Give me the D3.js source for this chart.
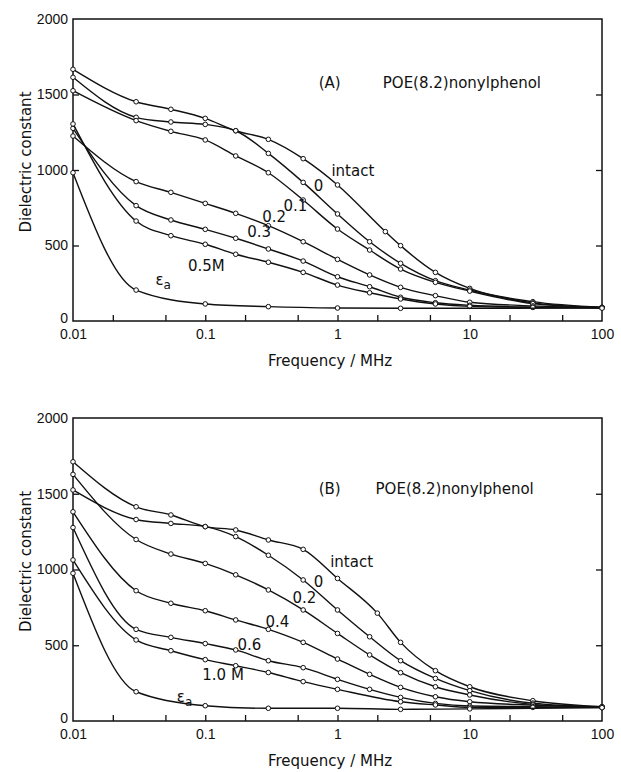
<!DOCTYPE html>
<html>
<head>
<meta charset="utf-8">
<script src="https://cdn.jsdelivr.net/npm/d3@7"></script>
<style>
  body { margin: 0; background: #fff; }
  text { font-family: "DejaVu Sans", sans-serif; fill: #111; }
  .tick text { font-family: "Liberation Sans", Arial, sans-serif; font-size: 14px; }
</style>
</head>
<body>
<script>
var width = 621,
    height = 772;

// frequencies (MHz) where markers were read, panel A and panel B
var freqA = [0.01, 0.03, 0.055, 0.1, 0.17, 0.3, 0.55, 1, 1.75, 2.3, 3, 5.5, 10, 30, 100];
var freqB = [0.01, 0.03, 0.055, 0.1, 0.17, 0.3, 0.55, 1, 1.75, 2, 3, 5.5, 10, 30, 100];

// panel A: dielectric constant per series (null = no marker there)
var intactA = [1667, 1452, 1402, 1342, 1260, 1203, 1075, 901, null, 592, 499, 322, 216, 128, 91];
var zeroA   = [1614, 1349, 1318, 1302, 1260, 1110, 918, 709, 525, null, 382, 267, 205, 120, 90];
var m01A    = [1525, 1327, 1256, 1199, 1093, 982, 801, 609, 470, null, 344, 256, 198, 115, 88];
var m02A    = [1225, 923, 852, 779, 713, 631, 525, 408, 305, null, 223, 168, 124, 100, 88];
var m03A    = [1276, 764, 669, 607, 548, 477, 397, 293, 227, null, 157, 121, 104, 92, 88];
var m05A    = [1305, 662, 565, 508, 442, 389, 322, 238, 187, null, 146, 113, 97, 90, 88];
var epsA    = [982, 205, null, 113, null, 95, null, 86, null, null, 84, null, null, null, 85];

// panel B
var intactB = [1711, 1414, 1360, 1283, 1261, 1195, 1133, 941, null, 712, 519, 332, 226, 134, 94];
var zeroB   = [1525, 1330, 1304, 1283, 1217, 1094, 931, 733, 556, null, 398, 281, 200, 118, 94];
var m02B    = [1628, 1198, 1102, 1040, 965, 865, 733, 578, 436, null, 319, 226, 172, 110, 92];
var m04B    = [1381, 860, 777, 728, 667, 605, 519, 409, 308, null, 222, 160, 127, 105, 92];
var m06B    = [1277, 605, 552, 511, 469, 398, 352, 275, 209, null, 156, 116, 99, 95, 90];
var m10B    = [1063, 535, 464, 405, 365, 320, 260, 209, null, null, 127, 106, 90, 90, 88];
var epsB    = [975, 193, null, 101, null, 84, null, 84, null, null, 77, null, 80, null, 88];

var yTicks = [0, 500, 1000, 1500, 2000];
var xMajor = [0.01, 0.1, 1, 10, 100];
var xMinor = [0.02, 0.05, 0.2, 0.5, 2, 5, 20, 50];

// curve labels, placed at (frequency, value)
var labelsA = [
    {t: '(A)', f: 0.72, v: 1545},
    {t: 'POE(8.2)nonylphenol', f: 2.2, v: 1545},
    {t: 'intact', f: 0.9, v: 960},
    {t: '0', f: 0.66, v: 861},
    {t: '0.1', f: 0.39, v: 728},
    {t: '0.2', f: 0.27, v: 656},
    {t: '0.3', f: 0.208, v: 556},
    {t: '0.5M', f: 0.074, v: 331},
    {t: 'eps', f: 0.042, v: 238}
];
var labelsB = [
    {t: '(B)', f: 0.72, v: 1500},
    {t: 'POE(8.2)nonylphenol', f: 1.94, v: 1500},
    {t: 'intact', f: 0.88, v: 1016},
    {t: '0', f: 0.66, v: 884},
    {t: '0.2', f: 0.456, v: 779},
    {t: '0.4', f: 0.285, v: 620},
    {t: '0.6', f: 0.175, v: 469},
    {t: '1.0 M', f: 0.095, v: 271},
    {t: 'eps', f: 0.061, v: 125}
];

var svg = d3.select('body')
    .append('svg')
    .attr('width', width)
    .attr('height', height);

function drawPanel(top, bottom, freq, series, labels) {
    var x = d3.scaleLog().domain([0.01, 100]).range([73, 602]);
    var y = d3.scaleLinear().domain([0, 2000]).range([bottom, top]);

    var g = svg.append('g');

    // frame
    g.append('rect')
        .attr('x', 73).attr('y', top)
        .attr('width', 602 - 73).attr('height', bottom - top)
        .attr('fill', 'none').attr('stroke', '#111').attr('stroke-width', 1.5);

    var left = g.append('g')
        .attr('transform', 'translate(73,0)')
        .call(d3.axisLeft(y).tickValues(yTicks).tickSize(-6).tickSizeOuter(0).tickPadding(5)
            .tickFormat(d3.format('d')));
    var right = g.append('g')
        .attr('transform', 'translate(602,0)')
        .call(d3.axisRight(y).tickValues(yTicks).tickSize(-6).tickSizeOuter(0).tickFormat(''));
    var bot = g.append('g')
        .attr('transform', 'translate(0,' + bottom + ')')
        .call(d3.axisBottom(x).tickValues(xMajor.concat(xMinor)).tickSize(-6).tickSizeOuter(0).tickPadding(8)
            .tickFormat(function (d) { return xMajor.indexOf(d) >= 0 ? d3.format('~g')(d) : ''; }));

    [left, right, bot].forEach(function (a) {
        a.select('.domain').remove();
        a.selectAll('.tick line').attr('stroke', '#111').attr('stroke-width', 1.3);
    });
    left.selectAll('.tick').filter(function (d) { return d === 0 || d === 2000; }).select('line').remove();
    right.selectAll('.tick').filter(function (d) { return d === 0 || d === 2000; }).remove();
    left.selectAll('.tick').filter(function (d) { return d === 0; }).select('text').attr('dy', '0.1em');
    bot.selectAll('.tick').filter(function (d) { return d === 0.01 || d === 100; }).select('line').remove();

    g.append('text')
        .attr('transform', 'translate(31,' + ((top + bottom) / 2 - 8) + ') rotate(-90)')
        .attr('text-anchor', 'middle')
        .style('font-size', '15px')
        .text('Dielectric constant');

    g.append('text')
        .attr('x', 330).attr('y', bottom + 45)
        .attr('text-anchor', 'middle')
        .style('font-size', '15px')
        .text('Frequency / MHz');

    var line = d3.line()
        .x(function (d) { return x(d.f); })
        .y(function (d) { return y(d.v); })
        .curve(d3.curveMonotoneX);

    series.forEach(function (vals) {
        var pts = freq.map(function (f, i) { return {f: f, v: vals[i]}; })
            .filter(function (d) { return d.v !== null; });
        g.append('path')
            .datum(pts)
            .attr('d', line)
            .attr('fill', 'none')
            .attr('stroke', '#111')
            .attr('stroke-width', 1.4);
        g.selectAll(null)
            .data(pts)
            .enter()
            .append('circle')
            .attr('cx', function (d) { return x(d.f); })
            .attr('cy', function (d) { return y(d.v); })
            .attr('r', 2.3)
            .attr('fill', '#fff')
            .attr('stroke', '#111')
            .attr('stroke-width', 1);
    });

    labels.forEach(function (l) {
        var t = g.append('text')
            .attr('x', x(l.f))
            .attr('y', y(l.v))
            .style('font-size', '15px');
        if (l.t === 'eps') {
            t.append('tspan').text('ε');
            t.append('tspan').attr('dy', 4).style('font-size', '12px').text('a');
        } else {
            t.text(l.t);
        }
    });
}

drawPanel(19, 321, freqA, [intactA, zeroA, m01A, m02A, m03A, m05A, epsA], labelsA);
drawPanel(418, 721, freqB, [intactB, zeroB, m02B, m04B, m06B, m10B, epsB], labelsB);
</script>
</body>
</html>
